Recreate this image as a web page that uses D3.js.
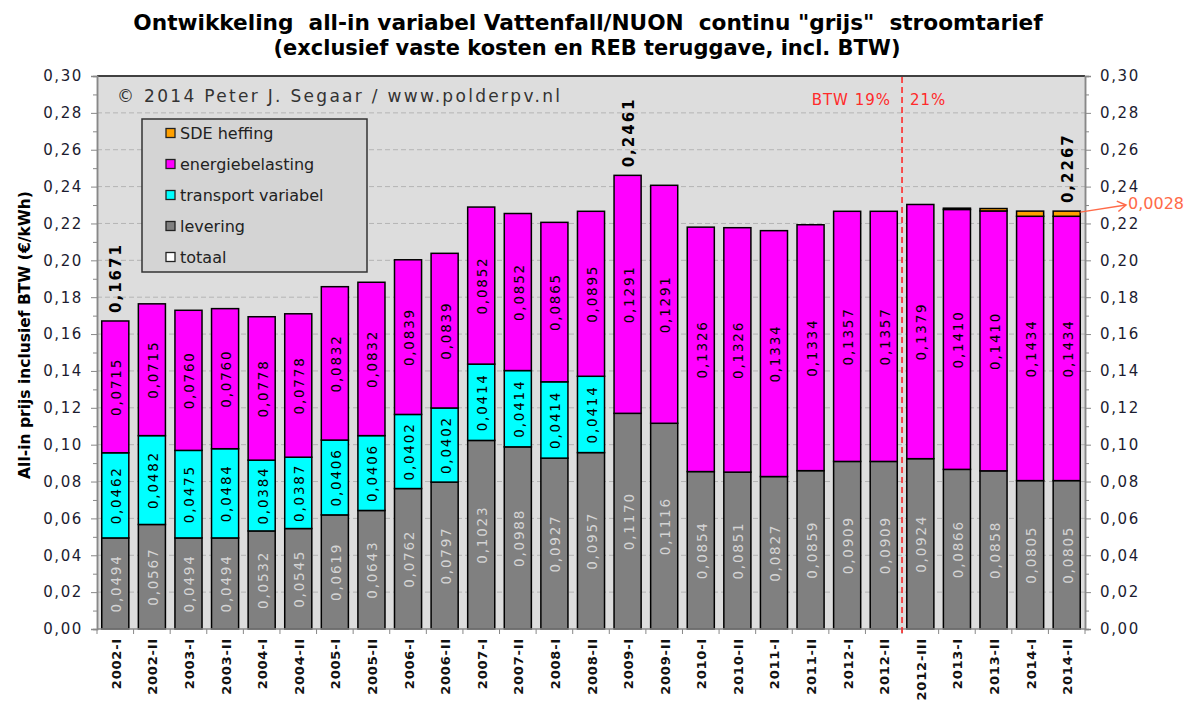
<!DOCTYPE html>
<html>
<head>
<meta charset="utf-8">
<script src="https://cdn.jsdelivr.net/npm/d3@7"></script>
<style>
  html, body { margin: 0; padding: 0; background: #fff; }
  svg { display: block; }
  text { font-family: "DejaVu Sans", Verdana, sans-serif; }
</style>
</head>
<body>
<svg id="chart" width="1197" height="702"></svg>
<script>
// ---------- DATA ----------
const categories = ["2002-I","2002-II","2003-I","2003-II","2004-I","2004-II","2005-I","2005-II",
  "2006-I","2006-II","2007-I","2007-II","2008-I","2008-II","2009-I","2009-II","2010-I","2010-II",
  "2011-I","2011-II","2012-I","2012-II","2012-III","2013-I","2013-II","2014-I","2014-II"];
const levering = [0.0494,0.0567,0.0494,0.0494,0.0532,0.0545,0.0619,0.0643,0.0762,0.0797,0.1023,0.0988,
  0.0927,0.0957,0.1170,0.1116,0.0854,0.0851,0.0827,0.0859,0.0909,0.0909,0.0924,0.0866,0.0858,0.0805,0.0805];
const transport = [0.0462,0.0482,0.0475,0.0484,0.0384,0.0387,0.0406,0.0406,0.0402,0.0402,0.0414,0.0414,
  0.0414,0.0414,0,0,0,0,0,0,0,0,0,0,0,0,0];
const energiebelasting = [0.0715,0.0715,0.0760,0.0760,0.0778,0.0778,0.0832,0.0832,0.0839,0.0839,0.0852,0.0852,
  0.0865,0.0895,0.1291,0.1291,0.1326,0.1326,0.1334,0.1334,0.1357,0.1357,0.1379,0.1410,0.1410,0.1434,0.1434];
const sdeHeffing = [0,0,0,0,0,0,0,0,0,0,0,0,0,0,0,0,0,0,0,0,0,0,0,0.0007,0.0013,0.0028,0.0028];
const totalLabelIdx = [0, 14, 26];
const yTicks = [0,0.02,0.04,0.06,0.08,0.10,0.12,0.14,0.16,0.18,0.20,0.22,0.24,0.26,0.28,0.30];
const legendItems = [
  {name:"SDE heffing", color:"#ffa000"},
  {name:"energiebelasting", color:"#ff00ff"},
  {name:"transport variabel", color:"#00ffff"},
  {name:"levering", color:"#808080"},
  {name:"totaal", color:"#ffffff"}
];
const titleLines = ["Ontwikkeling  all-in variabel Vattenfall/NUON  continu \"grijs\"  stroomtarief",
                    "(exclusief vaste kosten en REB teruggave, incl. BTW)"];
const yTitle = "All-in prijs inclusief BTW (€/kWh)";
const copyright = "© 2014 Peter J. Segaar / www.polderpv.nl";

// ---------- LAYOUT ----------
const svg = d3.select("#chart");
const L = 97, R = 1085, T = 76, B = 629;
const fmt = v => d3.format(".4f")(v).replace(".", ",");
const fmt2 = v => d3.format(".2f")(v).replace(".", ",");

const x = d3.scaleBand().domain(categories).range([L, R]).paddingInner(0.26).paddingOuter(0.13);
const y = d3.scaleLinear().domain([0, 0.30]).range([B, T]);

// plot background
svg.append("rect").attr("x", L).attr("y", T).attr("width", R - L).attr("height", B - T).attr("fill", "#dddddd");

// grid
svg.append("g").selectAll("line").data(yTicks.filter(v => v > 0 && v < 0.3)).join("line")
  .attr("x1", L).attr("x2", R).attr("y1", d => y(d)).attr("y2", d => y(d))
  .attr("stroke", "#b4b4b4").attr("stroke-width", 1).attr("stroke-dasharray", "5,3");

// stacked data
const rows = categories.map((c, i) => ({cat: c, levering: levering[i], transport: transport[i],
  energie: energiebelasting[i], sde: sdeHeffing[i]}));
const keys = ["levering", "transport", "energie", "sde"];
const colors = {levering: "#808080", transport: "#00ffff", energie: "#ff00ff", sde: "#ffa000"};
const stack = d3.stack().keys(keys)(rows);

const bw = x.bandwidth();
const gBars = svg.append("g");
stack.forEach(layer => {
  gBars.selectAll(null).data(layer.filter(d => d[1] - d[0] > 0)).join("rect")
    .attr("x", d => x(d.data.cat)).attr("width", bw)
    .attr("y", d => y(d[1])).attr("height", d => y(d[0]) - y(d[1]))
    .attr("fill", colors[layer.key]).attr("stroke", "#000").attr("stroke-width", 1.5);
});

// segment labels
const labelLayers = [{key: "levering", color: "#d4d4d4"}, {key: "transport", color: "#000"}, {key: "energie", color: "#000"}];
labelLayers.forEach(ll => {
  const layer = stack.find(s => s.key === ll.key);
  svg.append("g").selectAll("text").data(layer.filter(d => d[1] - d[0] > 0)).join("text")
    .attr("transform", d => `translate(${x(d.data.cat) + bw / 2 + 1},${(y(d[0]) + y(d[1])) / 2}) rotate(-90)`)
    .attr("text-anchor", "middle").attr("dominant-baseline", "central")
    .attr("font-size", 13.5).attr("letter-spacing", "1.8px").attr("fill", ll.color)
    .text(d => fmt(d[1] - d[0]));
});

// total labels
svg.append("g").selectAll("text").data(totalLabelIdx).join("text")
  .attr("transform", i => {
    const tot = levering[i] + transport[i] + energiebelasting[i] + sdeHeffing[i];
    return `translate(${x(categories[i]) + bw / 2 + 1},${y(tot) - 8}) rotate(-90)`;
  })
  .attr("text-anchor", "start").attr("dominant-baseline", "central")
  .attr("font-size", 15).attr("font-weight", "bold").attr("letter-spacing", "2px").attr("fill", "#000")
  .text(i => fmt(levering[i] + transport[i] + energiebelasting[i] + sdeHeffing[i]));

// plot top border
svg.append("line").attr("x1", L).attr("x2", R).attr("y1", T).attr("y2", T).attr("stroke", "#404040").attr("stroke-width", 2);

// axes
const minor = d3.range(0.01, 0.30, 0.02);
const leftAx = svg.append("g").attr("transform", `translate(${L},0)`)
  .call(d3.axisLeft(y).tickValues(yTicks).tickFormat(fmt2).tickSize(6).tickPadding(8));
const leftMinor = svg.append("g").attr("transform", `translate(${L},0)`)
  .call(d3.axisLeft(y).tickValues(minor).tickFormat("").tickSize(4));
const rightAx = svg.append("g").attr("transform", `translate(${R},0)`)
  .call(d3.axisRight(y).tickValues(yTicks).tickFormat(fmt2).tickSize(6).tickPadding(9));
const rightMinor = svg.append("g").attr("transform", `translate(${R},0)`)
  .call(d3.axisRight(y).tickValues(minor).tickFormat("").tickSize(4));
[leftAx, leftMinor, rightAx, rightMinor].forEach(g => {
  g.select(".domain").attr("stroke", "#888").attr("stroke-width", 1.5);
  g.selectAll(".tick line").attr("stroke", "#888");
  g.selectAll("text").attr("font-size", 15).attr("letter-spacing", "1.6px").attr("fill", "#1c1c30")
    .style("font-family", "DejaVu Sans, Verdana, sans-serif");
});

// x axis
svg.append("line").attr("x1", L).attr("x2", R).attr("y1", B).attr("y2", B).attr("stroke", "#888").attr("stroke-width", 1.5);
const step = x.step();
svg.append("g").selectAll("line").data(categories.concat(["__end"])).join("line")
  .attr("x1", (d, i) => L + i * step).attr("x2", (d, i) => L + i * step)
  .attr("y1", B).attr("y2", B + 5).attr("stroke", "#888");
svg.append("g").selectAll("text").data(categories).join("text")
  .attr("transform", d => `translate(${x(d) + bw / 2 + 1},${B + 9}) rotate(-90)`)
  .attr("text-anchor", "end").attr("dominant-baseline", "central")
  .attr("font-size", 13).attr("font-weight", "bold").attr("letter-spacing", "0.8px").attr("fill", "#111")
  .text(d => d);

// BTW dashed line
const xBtw = (x("2012-II") + bw + x("2012-III")) / 2;
svg.append("line").attr("x1", xBtw).attr("x2", xBtw).attr("y1", T + 1).attr("y2", B + 4)
  .attr("stroke", "#ff2a2a").attr("stroke-width", 1.6).attr("stroke-dasharray", "6,4");
svg.append("text").attr("x", xBtw - 11).attr("y", 105).attr("text-anchor", "end")
  .attr("font-size", 15).attr("letter-spacing", "1px").attr("fill", "#ff2a2a").text("BTW 19%");
svg.append("text").attr("x", xBtw + 8).attr("y", 105).attr("text-anchor", "start")
  .attr("font-size", 15).attr("letter-spacing", "1px").attr("fill", "#ff2a2a").text("21%");

// SDE arrow annotation
const iLast = categories.length - 1;
const topLast = levering[iLast] + transport[iLast] + energiebelasting[iLast] + sdeHeffing[iLast];
const ax0 = x(categories[iLast]) + bw, ay0 = y(topLast) + 1;
const ax1 = 1126, ay1 = 205;
const arrowColor = "#ff6a48";
svg.append("line").attr("x1", ax0).attr("y1", ay0).attr("x2", ax1).attr("y2", ay1)
  .attr("stroke", arrowColor).attr("stroke-width", 1.5);
const ang = Math.atan2(ay1 - ay0, ax1 - ax0);
const hl = 10;
svg.append("path")
  .attr("d", `M${ax1 - hl * Math.cos(ang - 0.55)},${ay1 - hl * Math.sin(ang - 0.55)} L${ax1},${ay1} L${ax1 - hl * Math.cos(ang + 0.55)},${ay1 - hl * Math.sin(ang + 0.55)}`)
  .attr("fill", "none").attr("stroke", arrowColor).attr("stroke-width", 1.5);
svg.append("text").attr("x", 1128).attr("y", 209).attr("font-size", 16)
  .attr("fill", arrowColor).text(fmt(sdeHeffing[iLast]));

// copyright
svg.append("text").attr("x", 117).attr("y", 102).attr("font-size", 17).attr("fill", "#333")
  .attr("textLength", 443).attr("lengthAdjust", "spacing").text(copyright);

// legend
const lg = svg.append("g");
lg.append("rect").attr("x", 142).attr("y", 119).attr("width", 225).attr("height", 153)
  .attr("fill", "#d4d4d4").attr("stroke", "#333").attr("stroke-width", 1.5);
legendItems.forEach((it, i) => {
  const cy = 133 + i * 31;
  lg.append("rect").attr("x", 166).attr("y", cy - 4.5).attr("width", 9).attr("height", 9)
    .attr("fill", it.color).attr("stroke", "#222").attr("stroke-width", 1.3);
  lg.append("text").attr("x", 180).attr("y", cy).attr("dominant-baseline", "central")
    .attr("font-size", 16).attr("fill", "#222").text(it.name);
});

// titles: bold text horizontally condensed to the reference widths
const titleSpec = [{cx: 588, y: 30, w: 910}, {cx: 587, y: 55, w: 627}];
titleLines.forEach((t, i) => {
  const s = titleSpec[i];
  const g = svg.append("g");
  const el = g.append("text").attr("x", 0).attr("y", 0).attr("text-anchor", "middle")
    .style("white-space", "pre")
    .attr("font-size", 21).attr("font-weight", "bold").attr("fill", "#000").text(t);
  const w = el.node().getComputedTextLength();
  g.attr("transform", `translate(${s.cx},${s.y}) scale(${s.w / w},1)`);
});

// y axis title
svg.append("text").attr("transform", "translate(25,335) rotate(-90)").attr("text-anchor", "middle")
  .attr("dominant-baseline", "central").attr("font-size", 15.5).attr("font-weight", "bold").attr("fill", "#000")
  .text(yTitle);
</script>
</body>
</html>
